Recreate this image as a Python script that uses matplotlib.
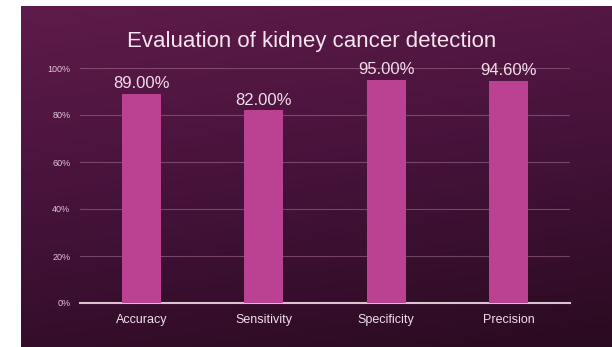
import numpy as np
import matplotlib
matplotlib.use("Agg")
from matplotlib import pyplot as plt
from matplotlib.colors import LinearSegmentedColormap

plt.rcParams['font.family'] = ['Liberation Sans', 'DejaVu Sans']

## data
metrics = ['Accuracy', 'Sensitivity', 'Specificity', 'Precision']
scores = [89.00, 82.00, 95.00, 94.60]
yticks = [0, 20, 40, 60, 80, 100]
title = 'Evaluation of kidney cancer detection'

fig = plt.figure(figsize=(6.12, 3.47), dpi=100)
fig.patch.set_facecolor('white')

## dark magenta background panel
bg = fig.add_axes([21/612, 0, 1 - 21/612, (347 - 6)/347])
bg.set_axis_off()
cmap = LinearSegmentedColormap.from_list('bg', ['#2a0b20', '#45123a', '#5f1b4b'])
yy, xx = np.mgrid[0:1:200j, 0:1:300j]
grad = 0.8*yy + 0.2*(1 - xx)
bg.imshow(grad, cmap=cmap, origin='lower', aspect='auto', extent=[0, 1, 0, 1])

## bars
ax = fig.add_axes([80/612, (347 - 303)/347, 490/612, 235/347])
ax.patch.set_alpha(0)
x = np.arange(len(metrics))
ax.bar(x, scores, width=0.32, color='#bb4293', zorder=3)
for xi, s in zip(x, scores):
    ax.text(xi, s + 1.0, f'{s:.2f}%', ha='center', va='bottom',
            fontsize=12, color='#f3dde9', zorder=4)

ax.set_xlim(-0.5, len(metrics) - 0.5)
ax.set_ylim(0, 100)
ax.set_yticks(yticks)
ax.set_yticklabels([f'{t}%' for t in yticks], fontsize=6.5, color='#e0c5d6')
ax.set_xticks(x)
ax.set_xticklabels(metrics, fontsize=9, color='#eee0ea')
ax.tick_params(length=0, pad=8)
ax.tick_params(axis='y', pad=7)
ax.grid(axis='y', color='#b07a9c', linewidth=0.8, alpha=0.5, zorder=1)
for sp in ['top', 'right', 'left']:
    ax.spines[sp].set_visible(False)
ax.spines['bottom'].set_color('#d9c3d1')
ax.spines['bottom'].set_linewidth(1.5)

fig.text(312/612, 1 - 42/347, title, ha='center', va='center',
         fontsize=16, color='#f6e4ef')

fig.savefig('out.png', dpi=100, facecolor=fig.get_facecolor())
